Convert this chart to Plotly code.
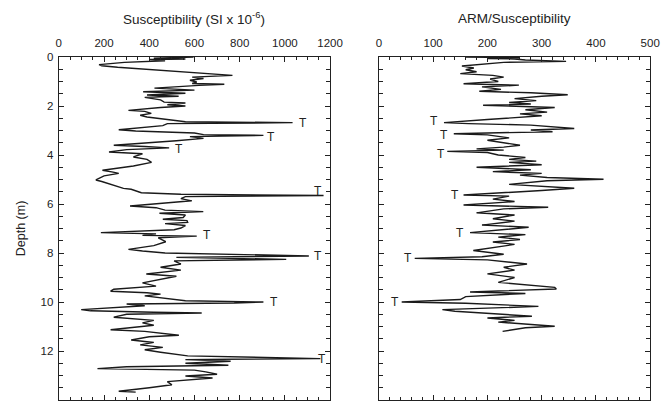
import plotly.graph_objects as go

# ---- Data ----
sus_depth = [0.00, 0.05, 0.08, 0.10, 0.15, 0.22, 0.31, 0.36, 0.42, 0.72, 0.75, 0.82, 0.88, 0.95, 1.02, 1.08, 1.11, 1.16,
             1.27, 1.35, 1.42, 1.48, 1.55, 1.60, 1.65, 1.75, 1.84, 1.88, 1.95, 2.00, 2.06, 2.18, 2.22, 2.30, 2.38, 2.45,
             2.50, 2.58, 2.64, 2.68, 2.72, 2.80, 2.97, 3.02, 3.10, 3.17, 3.20, 3.25, 3.32, 3.42, 3.60, 3.65, 3.71, 3.78,
             3.88, 3.95, 4.08, 4.18, 4.30, 4.45, 4.62, 4.70, 4.75, 4.85, 5.02, 5.08, 5.36, 5.40, 5.54, 5.60, 5.65, 5.70,
             5.78, 5.87, 5.92, 6.08, 6.15, 6.25, 6.31, 6.38, 6.45, 6.55, 6.62, 6.68, 6.75, 6.80, 6.88, 6.98, 7.05, 7.17,
             7.22, 7.28, 7.31, 7.38, 7.54, 7.70, 7.85, 7.92, 8.00, 8.12, 8.18, 8.26, 8.32, 8.45, 8.58, 8.70, 8.86, 8.95,
             9.22, 9.35, 9.48, 9.56, 9.62, 9.68, 9.75, 9.95, 10.00, 10.04, 10.08, 10.15, 10.31, 10.36, 10.42, 10.45,
             10.50, 10.62, 10.75, 10.85, 10.95, 11.13, 11.20, 11.36, 11.42, 11.55, 11.65, 11.75, 11.85, 11.95, 12.05,
             12.20, 12.31, 12.35, 12.42, 12.50, 12.58, 12.64, 12.72, 12.78, 12.85, 12.95, 13.02, 13.10, 13.25, 13.38,
             13.50, 13.64, 13.68]
sus_value = [596, 420, 560, 400, 470, 290, 178, 190, 260, 732, 768, 590, 640, 580, 610, 590, 732, 620,
             423, 600, 373, 560, 390, 530, 380, 450, 466, 560, 480, 560, 450, 308, 380, 409, 360, 390,
             440, 520, 560, 1034, 480, 460, 265, 340, 600, 640, 905, 580, 640, 520, 243, 380, 488, 300,
             222, 370, 330, 390, 410, 330, 193, 240, 265, 200, 164, 190, 286, 320, 365, 540, 1171, 560,
             540, 588, 520, 315, 430, 470, 639, 445, 560, 550, 460, 567, 570, 470, 560, 540, 510, 186,
             430, 370, 610, 440, 473, 420, 308, 370, 470, 1106, 520, 1006, 510, 540, 450, 540, 387, 520,
             370, 430, 243, 229, 390, 450, 380, 560, 905, 776, 300, 380, 99, 140, 420, 632,
             300, 243, 420, 370, 420, 229, 380, 531, 400, 320, 420, 360, 460, 380, 450,
             570, 1157, 560, 760, 560, 750, 300, 171, 600, 650, 700, 560, 680, 480, 500,
             400, 265, 340]

arm_depth = [0.00, 0.03, 0.06, 0.08, 0.12, 0.18, 0.22, 0.30, 0.37, 0.45, 0.52, 0.60, 0.68, 0.75, 0.82, 0.90, 1.00, 1.09,
             1.15, 1.22, 1.32, 1.40, 1.46, 1.54, 1.60, 1.70, 1.78, 1.86, 1.92, 1.97, 2.06, 2.15, 2.25, 2.32, 2.40, 2.55,
             2.68, 2.72, 2.78, 2.92, 2.98, 3.05, 3.13, 3.18, 3.30, 3.40, 3.50, 3.60, 3.68, 3.75, 3.80, 3.85, 3.90, 4.00,
             4.10, 4.18, 4.25, 4.30, 4.40, 4.50, 4.60, 4.68, 4.75, 4.82, 4.92, 4.99, 5.05, 5.20, 5.36, 5.45, 5.63, 5.68,
             5.80, 5.90, 6.04, 6.13, 6.20, 6.36, 6.45, 6.60, 6.70, 6.86, 6.95, 7.17, 7.25, 7.35, 7.45, 7.55, 7.65, 7.90,
             8.05, 8.15, 8.22, 8.28, 8.45, 8.58, 8.70, 8.85, 9.00, 9.20, 9.40, 9.47, 9.55, 9.59, 9.65, 9.78, 9.90, 10.00,
             10.05, 10.18, 10.25, 10.31, 10.38, 10.50, 10.58, 10.65, 10.75, 10.82, 10.90, 10.99, 11.05, 11.20]
arm_value = [159, 260, 200, 250, 270, 345, 230, 180, 153, 175, 160, 180, 150, 210, 230, 205, 220, 156,
             258, 190, 225, 185, 280, 348, 300, 250, 290, 240, 280, 192, 324, 270, 310, 260, 300, 200,
             120, 165, 280, 360, 280, 320, 138, 200, 240, 200, 230, 260, 230, 180, 230, 126, 200, 220,
             270, 240, 290, 240, 300, 180, 280, 210, 300, 260, 310, 414, 310, 240, 360, 300, 156, 240,
             210, 250, 156, 312, 230, 180, 250, 210, 250, 190, 276, 168, 270, 220, 260, 210, 250, 174,
             230, 190, 66, 200, 273, 230, 250, 200, 250, 220, 324, 327, 220, 168, 270, 160, 150, 42,
             160, 294, 200, 117, 140, 240, 282, 200, 250, 220, 270, 324, 270, 228]

# "T" marker labels
sus_t_value = [1078, 938, 531, 1145, 657, 1145, 951, 1164]
sus_t_depth = [2.68, 3.27, 3.77, 5.46, 7.27, 8.12, 10.0, 12.31]
arm_t_value = [101, 120, 114, 141, 149, 53, 30]
arm_t_depth = [2.63, 3.17, 3.95, 5.63, 7.2, 8.19, 10.0]

# page body adds an 8 px offset; figure is sized to fill the rest of the window
W, H = 663, 396
LINE = "#1a1a1a"
TXT = "#222"
FONT = "Liberation Sans, Arial, sans-serif"

fig = go.Figure()
fig.add_trace(go.Scatter(x=sus_value, y=sus_depth, mode="lines",
                         line=dict(color=LINE, width=1.4), xaxis="x", yaxis="y", showlegend=False))
fig.add_trace(go.Scatter(x=arm_value, y=arm_depth, mode="lines",
                         line=dict(color=LINE, width=1.4), xaxis="x2", yaxis="y2", showlegend=False))

annotations = []
for v, d in zip(sus_t_value, sus_t_depth):
    annotations.append(dict(x=v, y=d, xref="x", yref="y", text="T", showarrow=False,
                            xanchor="center", yanchor="middle",
                            font=dict(size=12, color=TXT, family=FONT)))
for v, d in zip(arm_t_value, arm_t_depth):
    annotations.append(dict(x=v, y=d, xref="x2", yref="y2", text="T", showarrow=False,
                            xanchor="center", yanchor="middle",
                            font=dict(size=12, color=TXT, family=FONT)))

annotations.append(dict(x=188 / W, y=1, yref="paper", xref="paper", yshift=39,
                        xanchor="center", yanchor="middle",
                        text="Susceptibility (SI x 10<sup>-6</sup>)", showarrow=False,
                        font=dict(size=13.5, color=TXT, family=FONT)))
annotations.append(dict(x=516 / W, y=1, yref="paper", xref="paper", yshift=39,
                        xanchor="center", yanchor="middle",
                        text="ARM/Susceptibility", showarrow=False,
                        font=dict(size=13.5, color=TXT, family=FONT)))
annotations.append(dict(x=10 / W, y=0.5, yref="paper", xref="paper", textangle=-90,
                        xanchor="center", yanchor="middle",
                        text="Depth (m)", showarrow=False,
                        font=dict(size=12.5, color=TXT, family=FONT)))

ax_common = dict(showgrid=False, zeroline=False, showline=True, linecolor=TXT, linewidth=1.2,
                 mirror="ticks", ticks="inside", ticklen=5, tickcolor=TXT, tickwidth=1,
                 tickfont=dict(size=11.5, color=TXT, family=FONT))

fig.update_layout(
    width=W, height=H,
    margin=dict(l=0, r=0, t=49, b=4),
    paper_bgcolor="white", plot_bgcolor="white",
    annotations=annotations,
    xaxis=dict(domain=[49 / W, 327 / W], range=[0, 1200], side="top", dtick=200, tick0=0,
               ticklabelstandoff=4,
               minor=dict(dtick=50, ticks="inside", ticklen=3, tickcolor=TXT), anchor="y",
               **ax_common),
    xaxis2=dict(domain=[377 / W, 655 / W], range=[0, 500], side="top", dtick=100, tick0=0,
                ticklabelstandoff=4,
                minor=dict(dtick=20, ticks="inside", ticklen=3, tickcolor=TXT), anchor="y2",
                **ax_common),
    yaxis=dict(range=[14, 0], dtick=2, tick0=0, anchor="x", ticklabelstandoff=2,
               minor=dict(dtick=0.5, ticks="inside", ticklen=4, tickcolor=TXT),
               **ax_common),
    yaxis2=dict(range=[14, 0], dtick=2, tick0=0, anchor="x2", showticklabels=False,
                minor=dict(dtick=0.5, ticks="inside", ticklen=4, tickcolor=TXT),
                **ax_common),
)

fig.write_html("out.html")
